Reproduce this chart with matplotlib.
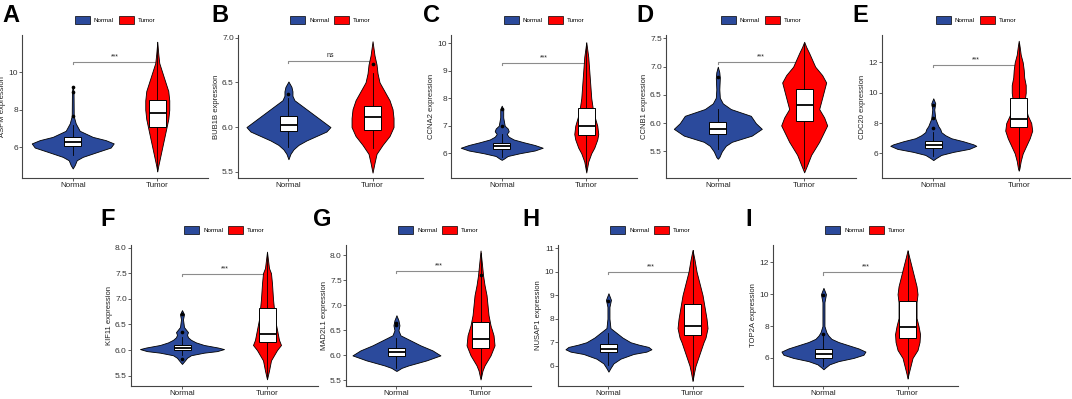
import matplotlib
matplotlib.use('Agg')
import matplotlib.pyplot as plt
from matplotlib.patches import Patch, Rectangle

plt.rcParams['font.family'] = ['Liberation Sans', 'DejaVu Sans']

groups = ['Normal', 'Tumor']
colors = ['#2B4A9C', '#FF0000']

genes = ['ASPM', 'BUB1B', 'CCNA2', 'CCNB1', 'CDC20', 'KIF11', 'MAD2L1', 'NUSAP1', 'TOP2A']
letters = ['A', 'B', 'C', 'D', 'E', 'F', 'G', 'H', 'I']
sig = ['***', 'ns', '***', '***', '***', '***', '***', '***', '***']
bracket_y = [10.54, 6.74, 9.28, 7.08, 11.84, 7.49, 7.69, 10.0, 11.37]

ylims = [(4.35, 12.0), (5.43, 7.03), (5.1, 10.3), (5.03, 7.56), (4.38, 13.8),
         (5.3, 8.05), (5.39, 8.2), (5.14, 11.13), (4.24, 13.09)]
yticks = [[6, 8, 10], [5.5, 6.0, 6.5, 7.0], [6, 7, 8, 9, 10], [5.5, 6.0, 6.5, 7.0, 7.5],
          [6, 8, 10, 12], [5.5, 6.0, 6.5, 7.0, 7.5, 8.0], [5.5, 6.0, 6.5, 7.0, 7.5, 8.0],
          [6, 7, 8, 9, 10, 11], [6, 8, 10, 12]]

# violin outlines: (expression, half width in px)
aspm_n = [(4.86, 0), (5.04, 2), (5.3, 4), (5.48, 10), (5.75, 25), (5.98, 38), (6.2, 41), (6.375, 33),
          (6.55, 20), (6.875, 7), (7.27, 3), (7.66, 1), (8.96, 0.8), (9.27, 0)]
aspm_t = [(4.7, 0), (5.0, 1), (5.5, 3), (6.0, 5), (6.5, 7), (7.0, 9), (7.5, 11), (8.0, 12), (8.5, 12),
          (9.0, 11), (9.5, 8), (10.0, 5), (10.5, 2), (11.0, 1), (11.64, 0)]
bub1b_n = [(5.64, 0), (5.7, 2), (5.75, 5), (5.8, 10), (5.85, 18), (5.9, 28), (5.95, 38), (6.0, 42),
           (6.1, 30), (6.2, 18), (6.25, 12), (6.3, 6), (6.35, 4), (6.4, 4), (6.45, 3), (6.51, 0)]
bub1b_t = [(5.49, 0), (5.6, 2), (5.7, 4), (5.8, 10), (5.9, 17), (6.0, 21), (6.1, 21), (6.2, 20),
           (6.3, 17), (6.4, 12), (6.5, 7), (6.6, 5), (6.7, 4), (6.8, 2), (6.96, 0)]
ccna2_n = [(5.76, 0), (5.8, 2), (5.9, 6), (6.0, 18), (6.1, 33), (6.2, 41), (6.3, 33), (6.4, 22),
           (6.5, 12), (6.6, 7), (6.7, 5), (6.8, 7), (6.9, 6), (7.0, 3), (7.3, 1.5), (7.6, 1.5), (7.73, 0)]
ccna2_t = [(5.3, 0), (5.5, 1), (5.7, 2), (6.0, 5), (6.2, 8), (6.5, 11), (6.7, 12), (7.0, 11),
           (7.5, 7), (8.0, 5), (8.5, 4), (9.0, 3), (9.5, 2), (10.04, 0)]
ccnb1_n = [(5.37, 0), (5.4, 1.5), (5.5, 4), (5.6, 8), (5.67, 14), (5.78, 34), (5.9, 44), (6.0, 38),
           (6.13, 33), (6.25, 13), (6.35, 5), (6.45, 2), (6.6, 1.5), (6.8, 2), (6.9, 1.5), (7.0, 0)]
ccnb1_t = [(5.13, 0), (5.26, 3), (5.44, 7), (5.67, 15), (5.96, 23), (6.1, 20), (6.25, 15), (6.45, 18),
           (6.72, 22), (6.85, 18), (7.0, 11), (7.24, 5), (7.35, 2), (7.44, 0)]
cdc20_n = [(5.56, 0), (5.7, 3), (5.9, 8), (6.1, 20), (6.3, 36), (6.5, 43), (6.6, 40), (6.8, 30),
           (7.0, 18), (7.2, 12), (7.4, 8), (7.6, 7), (7.8, 5), (8.3, 2), (8.9, 1), (9.3, 2), (9.63, 0)]
cdc20_t = [(4.86, 0), (5.0, 0.7), (5.5, 2), (6.0, 4), (6.5, 7.5), (7.0, 11), (7.5, 13.5), (8.0, 12.5),
           (8.5, 9), (9.0, 7), (9.5, 6), (10.0, 7), (10.5, 7), (11.0, 5.5), (11.5, 5), (12.0, 4),
           (12.5, 2), (13.0, 1), (13.42, 0)]
kif11_n = [(5.73, 0), (5.8, 3), (5.85, 5), (5.9, 9), (5.95, 22), (5.98, 35), (6.02, 42), (6.05, 36),
           (6.1, 22), (6.15, 14), (6.2, 9), (6.25, 6), (6.3, 5), (6.35, 6), (6.4, 4), (6.45, 2),
           (6.6, 1), (6.7, 2), (6.78, 0)]
kif11_t = [(5.43, 0), (5.6, 2), (5.8, 4), (5.9, 7), (6.0, 10), (6.1, 14), (6.2, 12), (6.4, 10),
           (6.6, 8), (6.8, 7), (7.0, 6), (7.3, 5), (7.5, 4), (7.6, 2), (7.92, 0)]
mad2l1_n = [(5.69, 0), (5.7, 1), (5.75, 5), (5.8, 12), (5.9, 30), (6.0, 44), (6.1, 36), (6.2, 24),
            (6.3, 14), (6.4, 4), (6.5, 2), (6.6, 3), (6.7, 2), (6.8, 0)]
mad2l1_t = [(5.52, 0), (5.7, 2), (5.8, 4), (5.9, 7), (6.0, 10), (6.1, 12), (6.2, 14), (6.4, 13),
            (6.6, 10), (6.8, 8), (7.0, 7), (7.2, 6), (7.4, 4), (7.6, 2.5), (7.8, 1.5), (8.09, 0)]
nusap1_n = [(5.75, 0), (5.9, 2), (6.1, 5), (6.3, 12), (6.5, 25), (6.6, 38), (6.7, 43), (6.8, 40),
            (6.9, 30), (7.0, 22), (7.2, 14), (7.4, 8), (7.6, 2), (8.0, 1), (8.5, 1), (8.8, 2.5), (9.08, 0)]
nusap1_t = [(5.35, 0), (5.7, 1.5), (6.0, 3), (6.5, 7), (7.0, 11), (7.2, 13), (7.6, 15), (8.0, 14),
            (8.5, 12), (9.0, 10), (9.5, 7), (10.0, 4), (10.5, 2), (10.92, 0)]
top2a_n = [(5.29, 0), (5.4, 2), (5.6, 6), (5.8, 15), (6.0, 30), (6.2, 40), (6.4, 42), (6.6, 35),
           (6.8, 25), (7.0, 15), (7.2, 8), (7.4, 5), (7.6, 3), (8.0, 1), (9.0, 1), (9.5, 1),
           (10.0, 2.5), (10.4, 0)]
top2a_t = [(4.7, 0), (5.0, 1), (5.5, 3), (6.0, 5), (6.5, 10), (7.0, 12), (7.5, 12.5), (8.0, 11),
           (8.5, 9), (9.0, 9), (9.5, 9), (10.0, 10), (10.5, 9), (11.0, 7), (11.5, 5), (12.0, 3),
           (12.5, 1), (12.77, 0)]

# box stats: q1, median, q3, whisker low, whisker high
box_n = [(6.07, 6.29, 6.52, 5.6, 7.2), (5.96, 6.02, 6.12, 5.78, 6.32), (6.14, 6.27, 6.36, 5.85, 6.7),
         (5.8, 5.9, 6.02, 5.55, 6.25), (6.35, 6.57, 6.79, 5.85, 7.4), (6.0, 6.05, 6.1, 5.9, 6.25),
         (5.99, 6.07, 6.14, 5.75, 6.35), (6.58, 6.72, 6.94, 6.05, 7.4), (6.0, 6.27, 6.55, 5.5, 7.4)]
box_t = [(7.09, 7.84, 8.52, 4.75, 11.6), (5.97, 6.11, 6.235, 5.77, 6.6), (6.65, 6.99, 7.65, 5.35, 10.0),
         (6.03, 6.32, 6.6, 5.2, 7.4), (7.73, 8.28, 9.63, 4.9, 13.3), (6.15, 6.31, 6.82, 5.45, 7.9),
         (6.14, 6.32, 6.66, 5.55, 8.05), (7.32, 7.7, 8.63, 5.4, 10.9), (7.26, 7.93, 9.56, 4.75, 12.7)]
out_n = [[7.66, 8.96, 9.2], [6.37], [7.0, 7.6], [6.82], [7.7, 8.35, 9.2], [5.82, 6.35, 6.7],
         [6.6, 6.65], [8.77], [7.53, 9.94]]
out_t = [[], [6.70], [], [], [], [], [7.6], [], []]

viol_n = [aspm_n, bub1b_n, ccna2_n, ccnb1_n, cdc20_n, kif11_n, mad2l1_n, nusap1_n, top2a_n]
viol_t = [aspm_t, bub1b_t, ccna2_t, ccnb1_t, cdc20_t, kif11_t, mad2l1_t, nusap1_t, top2a_t]

# layout in pixels: axes left, right, top, bottom; letter x, y
W, H = 1072, 399
axes_px = [(22, 208, 35, 178), (238, 423, 35, 178), (451, 637, 35, 178), (666, 856, 35, 178),
           (882, 1070, 35, 178), (131, 318, 245, 386), (346, 531, 245, 386), (558, 743, 245, 386),
           (773, 958, 245, 386)]
letter_px = [(2, 4), (211, 4), (423, 4), (636, 4), (852, 4), (100, 208), (313, 208), (522, 208), (745, 208)]

fig = plt.figure(figsize=(W / 100, H / 100), dpi=100)

for i in range(9):
    l, r, t, b = axes_px[i]
    ax = fig.add_axes([l / W, 1 - b / H, (r - l) / W, (b - t) / H])
    xlim = (0.4, 2.6)
    px_per_unit = (r - l) / (xlim[1] - xlim[0])
    for k, (prof, bx, outs) in enumerate([(viol_n[i], box_n[i], out_n[i]), (viol_t[i], box_t[i], out_t[i])]):
        x = k + 1
        ys = [p[0] for p in prof]
        ws = [p[1] / px_per_unit for p in prof]
        ax.fill_betweenx(ys, [x - w for w in ws], [x + w for w in ws], facecolor=colors[k],
                         edgecolor='black', linewidth=0.6, zorder=2)
        q1, med, q3, wlo, whi = bx
        ax.plot([x, x], [wlo, whi], color='black', lw=0.6, zorder=3)
        bw = 0.2
        ax.add_patch(Rectangle((x - bw / 2, q1), bw, q3 - q1, facecolor='white', edgecolor='black',
                               linewidth=0.7, zorder=4))
        ax.plot([x - bw / 2, x + bw / 2], [med, med], color='black', lw=1.3, zorder=5, solid_capstyle='butt')
        if outs:
            ax.scatter([x] * len(outs), outs, s=7, color='black', zorder=5, linewidths=0)

    y0, y1 = ylims[i]
    rng = y1 - y0
    by = bracket_y[i]
    tip = 0.015 * rng
    ax.plot([1, 1, 2, 2], [by - tip, by, by, by - tip], color='#8c8c8c', lw=0.8, zorder=1)
    ax.text(1.5, by + 0.012 * rng, sig[i], ha='center', va='bottom', fontsize=5, color='#222222')

    ax.set_xlim(*xlim)
    ax.set_ylim(y0, y1)
    ax.set_xticks([1, 2])
    ax.set_xticklabels(groups, fontsize=5.8, color='#222222')
    ax.set_yticks(yticks[i])
    ax.set_yticklabels([str(v) for v in yticks[i]], fontsize=6, color='#333333')
    ax.set_ylabel(genes[i] + ' expression', fontsize=5.5, color='#222222', labelpad=1.5)
    ax.tick_params(length=2, width=0.6, color='#444444', pad=1)
    for s in ['top', 'right']:
        ax.spines[s].set_visible(False)
    for s in ['left', 'bottom']:
        ax.spines[s].set_color('#444444')
        ax.spines[s].set_linewidth(0.8)

    handles = [Patch(facecolor=colors[j], edgecolor='black', linewidth=0.5, label=groups[j]) for j in range(2)]
    ax.legend(handles=handles, loc='center', bbox_to_anchor=(0.5, 1.0 + 15 / (b - t)), ncol=2,
              frameon=False, fontsize=4.5, handlelength=2.4, handleheight=1.7, columnspacing=0.8,
              handletextpad=0.6, borderaxespad=0, borderpad=0)

    lx, ly = letter_px[i]
    fig.text(lx / W, 1 - ly / H, letters[i], fontsize=17, fontweight='bold', ha='left', va='top')

fig.savefig('out.png', dpi=100)
